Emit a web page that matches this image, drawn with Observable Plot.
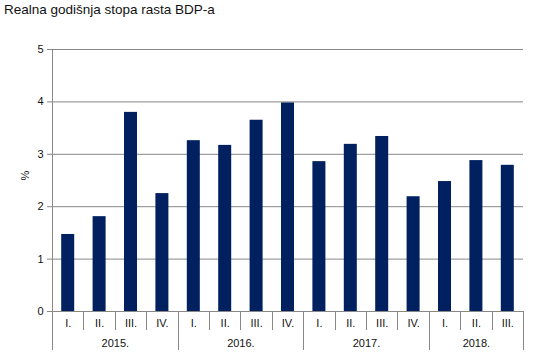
<!DOCTYPE html>
<html>
<head>
<meta charset="utf-8">
<script src="https://cdn.jsdelivr.net/npm/d3@7"></script>
<script src="https://cdn.jsdelivr.net/npm/@observablehq/plot@0.6"></script>
<style>
  html, body { margin: 0; padding: 0; background: #fff; }
  body { width: 533px; height: 362px; overflow: hidden; font-family: "Liberation Sans", Arial, sans-serif; }
  #title { height: 30px; font-size: 13.5px; color: #111; padding-left: 4px; line-height: 18px; padding-top: 1px; box-sizing: border-box; }
  svg { display: block; }
</style>
</head>
<body>
<div id="title">Realna godišnja stopa rasta BDP-a</div>
<div id="chart"></div>
<script>
const year = ["2015.","2015.","2015.","2015.","2016.","2016.","2016.","2016.","2017.","2017.","2017.","2017.","2018.","2018.","2018."];
const quarter = ["I.","II.","III.","IV.","I.","II.","III.","IV.","I.","II.","III.","IV.","I.","II.","III."];
const growth = [1.47, 1.81, 3.80, 2.25, 3.26, 3.17, 3.65, 3.98, 2.86, 3.19, 3.34, 2.19, 2.48, 2.88, 2.79];
const yTicks = [0, 1, 2, 3, 4, 5];
const yLabel = "%";

const rows = growth.map((v, i) => ({i, v, year: year[i], quarter: quarter[i]}));
const groups = d3.groups(rows, d => d.year).map(([y, r]) => ({year: y, start: r[0].i, end: r[r.length - 1].i + 1}));
const yearBounds = Array.from(new Set(groups.flatMap(g => [g.start, g.end])));
const quarterBounds = d3.range(1, rows.length).filter(b => !yearBounds.includes(b));

const gray = "#888";
const font = "Liberation Sans, Arial, sans-serif";

const chart = Plot.plot({
  width: 533,
  height: 332,
  marginTop: 19,
  marginBottom: 51,
  marginLeft: 52,
  marginRight: 10,
  style: {fontFamily: font, fontSize: "11px", color: "#111", background: "#fff"},
  x: {domain: [0, rows.length], axis: null},
  y: {domain: [0, 5], axis: null},
  marks: [
    Plot.ruleY(yTicks, {stroke: gray, strokeWidth: 1, insetLeft: -5}),
    Plot.ruleX([0], {stroke: gray, strokeWidth: 1}),
    Plot.text(yTicks, {y: d => d, frameAnchor: "left", dx: -9, textAnchor: "end", fontSize: 11, fill: "#111"}),
    Plot.text([yLabel], {frameAnchor: "left", rotate: -90, dx: -27, fontSize: 11, fill: "#111"}),
    Plot.rectY(rows, {x1: "i", x2: d => d.i + 1, y: "v", insetLeft: 9.2, insetRight: 9.2, fill: "#00205f"}),
    Plot.text(rows, {x: d => d.i + 0.5, y: 0, dy: 12, text: "quarter", fontSize: 11, fill: "#111"}),
    Plot.text(groups, {x: d => (d.start + d.end) / 2, y: 0, dy: 32, text: "year", fontSize: 11, fill: "#111"}),
    (index, scales) => {
      const g = d3.create("svg:g").attr("stroke", gray).attr("stroke-width", 1);
      const y0 = scales.y(0);
      for (const b of quarterBounds) {
        const x = Math.round(scales.x(b)) + 0.5;
        g.append("line").attr("x1", x).attr("x2", x).attr("y1", y0).attr("y2", y0 + 19);
      }
      for (const b of yearBounds) {
        const x = Math.round(scales.x(b)) + 0.5;
        g.append("line").attr("x1", x).attr("x2", x).attr("y1", y0).attr("y2", y0 + 39);
      }
      return g.node();
    }
  ]
});
document.getElementById("chart").appendChild(chart);
</script>
</body>
</html>
